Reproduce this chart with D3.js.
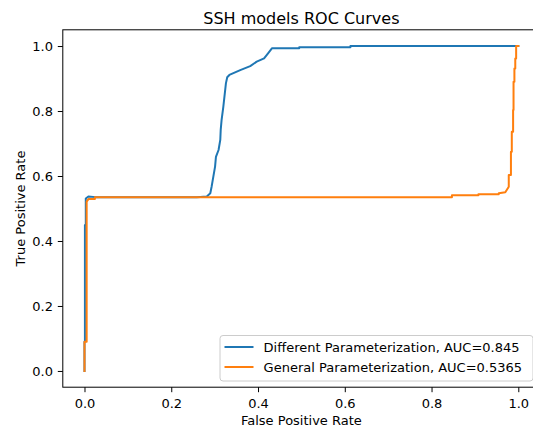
<!DOCTYPE html>
<html lang="en">
<head>
<meta charset="utf-8">
<title>SSH models ROC Curves</title>
<script src="https://d3js.org/d3.v7.min.js"></script>
<style>
  body { margin: 0; background: #fff; }
  text { font-family: "DejaVu Sans", sans-serif; fill: #000; }
</style>
</head>
<body>
<script>
// chart values
var seriesNames = ["Different Parameterization, AUC=0.845", "General Parameterization, AUC=0.5365"];
var seriesColors = ["#1f77b4", "#ff7f0e"];

var diffFpr = [0, 0, 0.001, 0.001, 0.003, 0.003, 0.009, 0.025, 0.259, 0.282, 0.290, 0.293, 0.297, 0.301, 0.303,
  0.309, 0.313, 0.314, 0.316, 0.320, 0.326, 0.329, 0.334, 0.359, 0.382, 0.397, 0.414, 0.424, 0.432, 0.443,
  0.495, 0.495, 0.613, 0.613, 1.0];
var diffTpr = [0, 0.09, 0.09, 0.449, 0.449, 0.531, 0.537, 0.535, 0.535, 0.537, 0.547, 0.567, 0.598, 0.629, 0.659,
  0.680, 0.711, 0.742, 0.772, 0.813, 0.885, 0.904, 0.911, 0.926, 0.938, 0.952, 0.962, 0.979, 0.993, 0.993,
  0.993, 0.996, 0.996, 1.0, 1.0];

var genFpr = [0, 0, 0.005, 0.005, 0.009, 0.024, 0.024, 0.847, 0.847, 0.908, 0.908, 0.955, 0.955, 0.970, 0.978,
  0.978, 0.983, 0.983, 0.985, 0.985, 0.988, 0.988, 0.989, 0.989, 0.991, 0.991, 0.993, 0.993, 0.995, 0.995, 1.0];
var genTpr = [0, 0.09, 0.09, 0.521, 0.529, 0.529, 0.535, 0.535, 0.541, 0.541, 0.544, 0.544, 0.547, 0.550, 0.567,
  0.603, 0.603, 0.675, 0.675, 0.736, 0.736, 0.803, 0.803, 0.890, 0.890, 0.931, 0.931, 0.962, 0.962, 1.0, 1.0];

var xTicks = [0, 0.2, 0.4, 0.6, 0.8, 1.0];
var yTicks = [0, 0.2, 0.4, 0.6, 0.8, 1.0];

var w = 533, h = 432;
// plot area edges (named so they don't clash with window.top)
var padL = 62.8, padR = 540, padT = 29.8, padB = 387.2;

var svg = d3.select("body").append("svg")
  .attr("width", w)
  .attr("height", h);

var x = d3.scaleLinear().domain([-0.05, 1.05]).range([padL, padR]);
var y = d3.scaleLinear().domain([-0.05, 1.05]).range([padB, padT]);

var fmt = d3.format(".1f");

// axes
var gx = svg.append("g")
  .attr("transform", "translate(0," + padB + ")")
  .call(d3.axisBottom(x).tickValues(xTicks).tickFormat(fmt).tickSize(5).tickPadding(6.5).tickSizeOuter(0));
var gy = svg.append("g")
  .attr("transform", "translate(" + padL + ",0)")
  .call(d3.axisLeft(y).tickValues(yTicks).tickFormat(fmt).tickSize(5).tickPadding(4.8).tickSizeOuter(0));

[gx, gy].forEach(function(g) {
  g.select(".domain").remove();
  g.selectAll(".tick line").attr("stroke", "#000").attr("stroke-width", 1);
  g.selectAll(".tick text").attr("font-size", "13px").attr("font-family", "DejaVu Sans").attr("fill", "#000");
});

// curves
var line = d3.line().x(function(d) { return x(d[0]); }).y(function(d) { return y(d[1]); });
var series = [d3.zip(diffFpr, diffTpr), d3.zip(genFpr, genTpr)];

svg.selectAll("path.curve")
  .data(series)
  .join("path")
    .attr("class", "curve")
    .attr("d", line)
    .attr("fill", "none")
    .attr("stroke", function(d, i) { return seriesColors[i]; })
    .attr("stroke-width", 2)
    .attr("stroke-linejoin", "round")
    .attr("stroke-linecap", "square");

// spines
svg.append("rect")
  .attr("x", padL).attr("y", padT)
  .attr("width", padR - padL).attr("height", padB - padT)
  .attr("fill", "none").attr("stroke", "#000").attr("stroke-width", 1);

// title & labels
svg.append("text")
  .attr("x", (padL + padR) / 2).attr("y", 24)
  .attr("text-anchor", "middle").attr("font-size", "16px")
  .text("SSH models ROC Curves");

svg.append("text")
  .attr("x", (padL + padR) / 2).attr("y", 425)
  .attr("text-anchor", "middle").attr("font-size", "13px")
  .text("False Positive Rate");

svg.append("text")
  .attr("transform", "translate(25," + (padT + padB) / 2 + ") rotate(-90)")
  .attr("text-anchor", "middle").attr("font-size", "13px")
  .text("True Positive Rate");

// legend
var lg = svg.append("g");
lg.append("rect")
  .attr("x", 220).attr("y", 335.5)
  .attr("width", 313).attr("height", 45.5)
  .attr("rx", 3)
  .attr("fill", "#fff").attr("fill-opacity", 0.8)
  .attr("stroke", "#ccc").attr("stroke-width", 1);

var rows = lg.selectAll("g.row")
  .data(seriesNames)
  .join("g")
    .attr("class", "row")
    .attr("transform", function(d, i) { return "translate(0," + (347 + i * 20) + ")"; });

rows.append("line")
  .attr("x1", 224.5).attr("x2", 253.5)
  .attr("stroke", function(d, i) { return seriesColors[i]; })
  .attr("stroke-width", 2);

rows.append("text")
  .attr("x", 263.6).attr("y", 4.6)
  .attr("font-size", "13px")
  .text(function(d) { return d; });
</script>
</body>
</html>
